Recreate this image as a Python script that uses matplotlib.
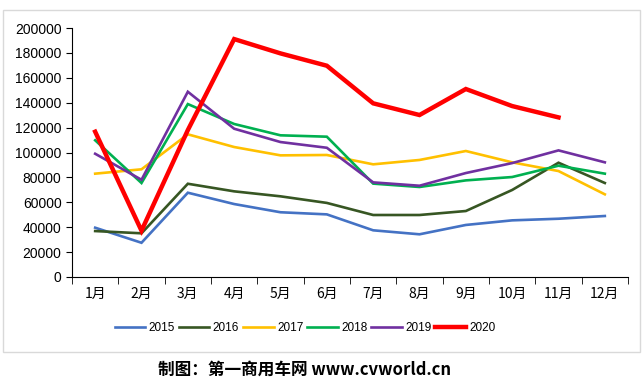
import matplotlib.pyplot as plt
from matplotlib.patches import Rectangle

plt.rcParams['font.family'] = ['Noto Sans CJK SC', 'DejaVu Sans']

months = ['1月', '2月', '3月', '4月', '5月', '6月', '7月', '8月', '9月', '10月', '11月', '12月']
years = ['2015', '2016', '2017', '2018', '2019', '2020']

s2015 = [39600, 27500, 67700, 58600, 52000, 50300, 37500, 34300, 41800, 45500, 46800, 49000]
s2016 = [36900, 35100, 74900, 68800, 64800, 59500, 49800, 49800, 53000, 69900, 91800, 75500]
s2017 = [83000, 86500, 114600, 104400, 97700, 98000, 90500, 94000, 101200, 92100, 85100, 66400]
s2018 = [109800, 75500, 138900, 122900, 113800, 112700, 75000, 72300, 77600, 80300, 89400, 83000]
s2019 = [99000, 78100, 148800, 119100, 108400, 103800, 76000, 73300, 83500, 91500, 101700, 92100]
s2020 = [116700, 37200, 118000, 191100, 179600, 169700, 139500, 130100, 151000, 137300, 128200]

series = [s2015, s2016, s2017, s2018, s2019, s2020]
colors = ['#4472C4', '#375623', '#FFC000', '#00B050', '#7030A0', '#FF0000']
widths = [1.9, 1.9, 1.9, 1.9, 1.9, 3.2]

fig = plt.figure(figsize=(6.43, 3.85), dpi=100)
ax = fig.add_axes([72 / 643, 1 - 277 / 385, 556 / 643, 249 / 385])

# light gray frame around the chart
fig.patches.append(Rectangle((3 / 643, 1 - 352 / 385), 637 / 643, 342 / 385,
                             transform=fig.transFigure, fill=False,
                             edgecolor='#D9D9D9', linewidth=1))

x = list(range(len(months)))
for vals, c, w, yr in zip(series, colors, widths, years):
    ax.plot(x[:len(vals)], vals, color=c, linewidth=w, label=yr,
            solid_joinstyle='miter')

ax.set_xlim(-0.5, 11.5)
ax.set_ylim(0, 200000)
ax.set_yticks(range(0, 200001, 20000))
ax.tick_params(axis='y', labelsize=10, length=4, direction='out')
ax.set_yticklabels([str(v) for v in range(0, 200001, 20000)],
                   family=['Liberation Sans', 'DejaVu Sans'])

ax.set_xticks(x)
ax.set_xticklabels(months, fontsize=10)
ax.set_xticks([i - 0.5 for i in range(13)], minor=True)
ax.tick_params(axis='x', which='major', length=0, pad=7)
ax.tick_params(axis='x', which='minor', length=5, direction='out')

for side in ['top', 'right']:
    ax.spines[side].set_visible(False)

fig.legend(loc='center', bbox_to_anchor=(305 / 643, 1 - 328 / 385), ncol=6,
           frameon=False, handlelength=2.6, handletextpad=0.3,
           columnspacing=0.3, prop={'family': ['Liberation Sans', 'DejaVu Sans'], 'size': 8.5})

fig.text(305 / 643, 1 - 370 / 385, '制图：第一商用车网 www.cvworld.cn',
         ha='center', va='center', fontsize=12, fontweight='bold')

fig.savefig('out.png', dpi=100)
